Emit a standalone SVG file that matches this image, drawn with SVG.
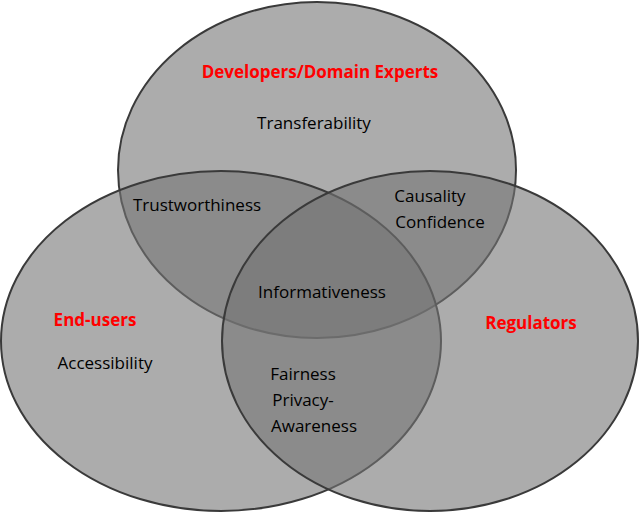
<svg xmlns="http://www.w3.org/2000/svg" width="640" height="514" viewBox="0 0 640 514">
<style>
.c{fill:#757575;fill-opacity:0.6;stroke:#3a3a3a;stroke-width:2}
text{font-family:"Open Sans","Liberation Sans",sans-serif;font-size:17px;fill:#000;text-anchor:middle}
.r{fill:#ff0000;font-weight:bold}
</style>
<rect width="640" height="514" fill="#fff"/>
<g id="developers"><ellipse class="c" cx="317" cy="170" rx="199" ry="168"/></g>
<g id="endusers"><ellipse class="c" cx="221" cy="341" rx="220" ry="170"/></g>
<g id="regulators"><ellipse class="c" cx="430" cy="341" rx="208" ry="170"/></g>
<g id="labels">
<text class="r" x="320" y="78">Developers/Domain Experts</text>
<text x="314" y="129">Transferability</text>
<text x="197" y="211">Trustworthiness</text>
<text x="430" y="202">Causality</text>
<text x="440" y="228">Confidence</text>
<text x="322" y="298">Informativeness</text>
<text class="r" x="95" y="326">End-users</text>
<text x="105" y="369">Accessibility</text>
<text class="r" x="531" y="329">Regulators</text>
<text x="303" y="380">Fairness</text>
<text x="303" y="406">Privacy-</text>
<text x="314" y="432">Awareness</text>
</g>
</svg>
